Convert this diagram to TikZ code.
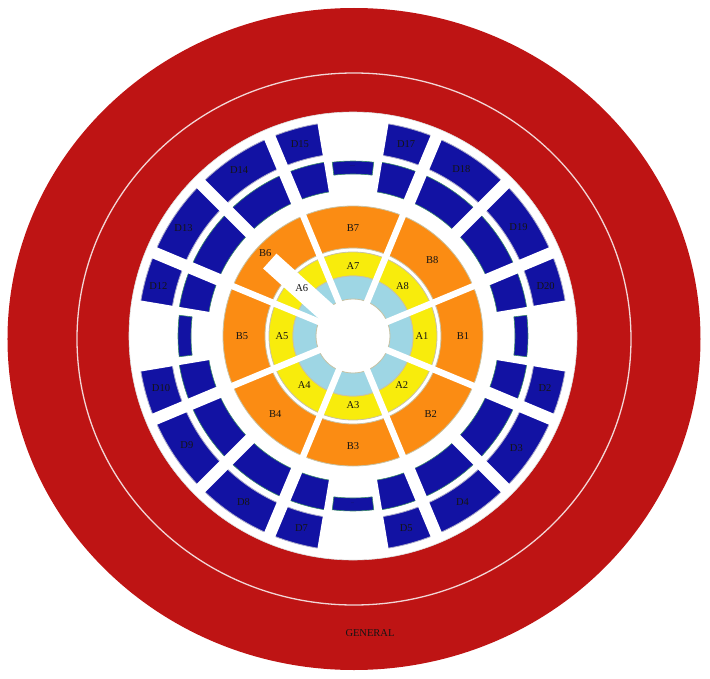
\documentclass[tikz,border=0pt]{standalone}
\usepackage{fontspec}
\setmainfont{Liberation Serif}
\definecolor{FieldRed}{HTML}{BE1414}
\definecolor{FieldLine}{HTML}{F2D6D6}
\definecolor{TierD}{HTML}{1212A3}
\definecolor{TierDEdge}{HTML}{3A8A6A}
\definecolor{TierDRim}{HTML}{A8A8C8}
\definecolor{TierB}{HTML}{FB8C13}
\definecolor{TierA}{HTML}{F8EC0C}
\definecolor{TierCore}{HTML}{9ED6E4}
\definecolor{SegEdge}{HTML}{C8C3A5}
\definecolor{InkDark}{HTML}{141414}
\tikzset{
  ring/.style={even odd rule, draw=SegEdge, line width=0.8pt},
  gapA/.style={draw=white, line width=6.5pt},
  gapD/.style={draw=white, line width=12pt},
  aislebar/.style={fill=TierD, draw=TierDEdge, line width=0.6pt},
  seatlabel/.style={font=\fontsize{10.5}{12}\selectfont, text=InkDark, inner sep=1pt},
  dotlabel/.style={font=\fontsize{4}{5}\selectfont, text=InkDark, inner sep=0pt},
}
\begin{document}
\begin{tikzpicture}[x=1pt, y=1pt]
\useasboundingbox (-353,-342) rectangle (357,336);
\fill[FieldRed] (1,-3) ellipse [x radius=346.5, y radius=331];
\draw[FieldLine, line width=1.3pt] (1,-3) ellipse [x radius=277, y radius=266];
\fill[white, draw=white!88!black, line width=0.6pt] (0,0) circle [radius=224];
\path[fill=TierD, draw=TierDRim, even odd rule, line width=0.8pt] (0,0) circle [radius=215] circle [radius=183];
\path[fill=TierD, draw=TierDEdge, even odd rule, line width=0.6pt] (0,0) circle [radius=176] circle [radius=146];
\fill[white] (-9.5:140) arc [start angle=-9.5, end angle=9.5, radius=140] -- (9.5:222) arc [start angle=9.5, end angle=-9.5, radius=222] -- cycle;
\fill[white] (80.5:140) arc [start angle=80.5, end angle=99.5, radius=140] -- (99.5:222) arc [start angle=99.5, end angle=80.5, radius=222] -- cycle;
\fill[white] (170.5:140) arc [start angle=170.5, end angle=189.5, radius=140] -- (189.5:222) arc [start angle=189.5, end angle=170.5, radius=222] -- cycle;
\fill[white] (260.5:140) arc [start angle=260.5, end angle=279.5, radius=140] -- (279.5:222) arc [start angle=279.5, end angle=260.5, radius=222] -- cycle;
\draw[gapD] (22.75:222) -- (202.75:222);
\draw[gapD] (45:222) -- (225:222);
\draw[gapD] (67.25:222) -- (247.25:222);
\draw[gapD] (112.75:222) -- (292.75:222);
\draw[gapD] (135:222) -- (315:222);
\draw[gapD] (157.25:222) -- (337.25:222);
\path[aislebar] (-6.8:162) arc [start angle=-6.8, end angle=6.8, radius=162] -- (6.8:175) arc [start angle=6.8, end angle=-6.8, radius=175] -- cycle;
\path[aislebar] (83.2:162) arc [start angle=83.2, end angle=96.8, radius=162] -- (96.8:175) arc [start angle=96.8, end angle=83.2, radius=175] -- cycle;
\path[aislebar] (173.2:162) arc [start angle=173.2, end angle=186.8, radius=162] -- (186.8:175) arc [start angle=186.8, end angle=173.2, radius=175] -- cycle;
\path[aislebar] (263.2:162) arc [start angle=263.2, end angle=276.8, radius=162] -- (276.8:175) arc [start angle=276.8, end angle=263.2, radius=175] -- cycle;
\path[ring, fill=TierB] (0,0) circle [radius=130] circle [radius=88];
\path[ring, fill=TierA] (0,0) circle [radius=84] circle [radius=60];
\path[ring, fill=TierCore] (0,0) circle [radius=60] circle [radius=37];
\draw[gapA] (22.5:134) -- (202.5:134);
\draw[gapA] (67.5:134) -- (247.5:134);
\draw[gapA] (112.5:134) -- (292.5:134);
\draw[gapA] (157.5:134) -- (337.5:134);
\fill[white, rotate=138] (0,-10) rectangle (112,10);
\node[seatlabel] (A1) at (0:69) {A1};
\node[seatlabel] (A2) at (-45:69) {A2};
\node[seatlabel] (A3) at (-90:69) {A3};
\node[seatlabel] (A4) at (-135:69) {A4};
\node[seatlabel] (A5) at (180:71) {A5};
\node[seatlabel] (A6) at (137:70) {A6};
\node[seatlabel] (A7) at (90:70) {A7};
\node[seatlabel] (A8) at (45:70) {A8};
\node[seatlabel] (B1) at (0:110) {B1};
\node[seatlabel] (B2) at (-45:110) {B2};
\node[seatlabel] (B3) at (-90:110) {B3};
\node[seatlabel] (B4) at (-135:110) {B4};
\node[seatlabel] (B5) at (180:111) {B5};
\node[seatlabel] (B6) at (136.5:121) {B6};
\node[seatlabel] (B7) at (90:108) {B7};
\node[seatlabel] (B8) at (44:110) {B8};
\node[seatlabel] (D2) at (-15.3:199) {D2};
\node[seatlabel] (D3) at (-34.4:198) {D3};
\node[seatlabel] (D4) at (-56.6:199) {D4};
\node[seatlabel] (D5) at (-74.5:199) {D5};
\node[seatlabel] (D7) at (-105:199) {D7};
\node[seatlabel] (D8) at (-123.4:199) {D8};
\node[seatlabel] (D9) at (-146.6:199) {D9};
\node[seatlabel] (D10) at (-164.8:199) {D10};
\node[seatlabel] (D12) at (165.5:201) {D12};
\node[seatlabel] (D13) at (147.5:201) {D13};
\node[seatlabel] (D14) at (124.5:201) {D14};
\node[seatlabel] (D15) at (105.5:199) {D15};
\node[seatlabel] (D17) at (74.5:199) {D17};
\node[seatlabel] (D18) at (57:199) {D18};
\node[seatlabel] (D19) at (33.3:198) {D19};
\node[seatlabel] (D20) at (14.5:199) {D20};
\node[dotlabel] (topdots) at (90:170) {.....};
\node[dotlabel] (botdots) at (-90:167) {...};
\node[seatlabel] (general) at (17,-297) {GENERAL};
\end{tikzpicture}
\end{document}
